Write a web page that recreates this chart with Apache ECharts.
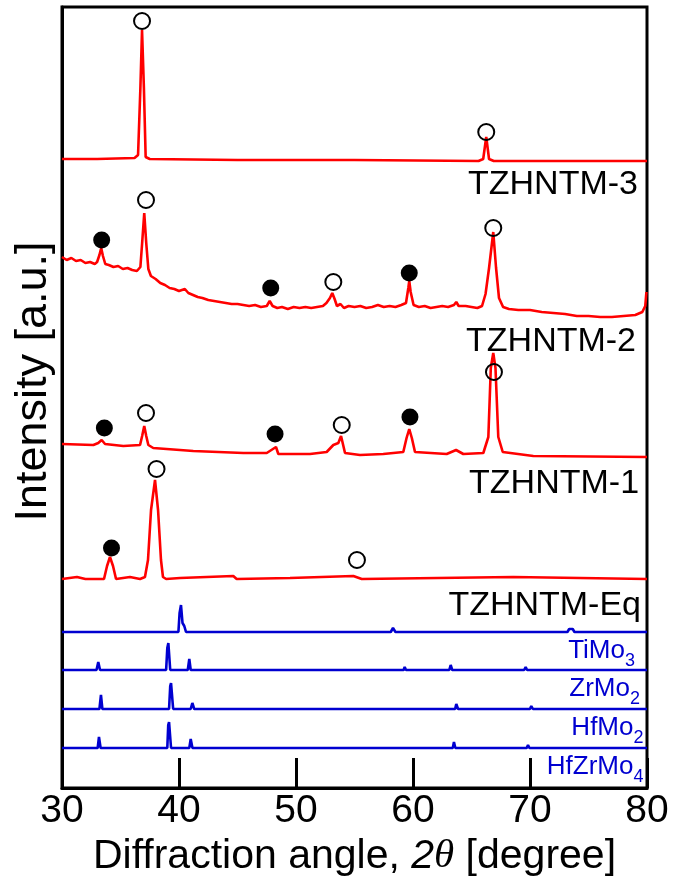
<!DOCTYPE html>
<html>
<head>
<meta charset="utf-8">
<script src="https://cdn.jsdelivr.net/npm/echarts@6/dist/echarts.min.js"></script>
<style>
  html, body { margin: 0; padding: 0; background: #fff; }
  #main { width: 686px; height: 877px; }
</style>
</head>
<body>
<div id="main"></div>
<script>
// 2θ [degree], intensity [a.u.] (patterns already stacked with offsets)
const tzhntm3 = [[30, 629], [33, 629], [36.2, 630], [36.5, 633], [36.7, 700], [36.84, 758], [37.0, 700], [37.15, 631], [37.5, 629], [45, 628], [55, 628], [65.6, 627], [66.0, 629], [66.26, 651], [66.5, 629], [66.9, 627], [75, 627], [80, 627]]

const tzhntm2 = [[30.0, 531], [30.4, 528], [30.8, 530], [31.2, 527], [31.6, 528], [32.0, 525], [32.4, 526], [32.8, 524], [33.0, 526], [33.2, 533], [33.35, 540], [33.5, 532], [33.7, 524], [34.0, 523], [34.4, 521], [34.8, 522], [35.2, 519], [35.6, 520], [36.0, 518], [36.4, 517], [36.7, 521], [36.85, 545], [37.03, 575], [37.2, 545], [37.38, 519], [37.6, 512], [38.0, 509], [38.4, 505], [38.8, 503], [39.2, 500], [39.6, 499], [40.0, 497], [40.5, 499], [40.8, 495], [41.2, 493], [41.6, 491], [42.0, 490], [42.5, 488], [43.0, 487], [43.5, 486], [44.0, 485], [44.5, 484], [45.0, 484], [45.5, 483], [46.0, 482], [46.5, 483], [47.0, 481], [47.5, 482], [47.75, 487], [48.0, 482], [48.4, 480], [48.8, 481], [49.3, 479], [49.8, 481], [50.3, 480], [50.8, 481], [51.3, 480], [51.8, 481], [52.3, 482], [52.6, 485], [52.9, 490], [53.1, 495], [53.3, 489], [53.5, 482], [53.8, 484], [54.1, 480], [54.5, 482], [55.0, 481], [55.5, 482], [56.0, 480], [56.5, 481], [57.0, 483], [57.5, 481], [58.0, 482], [58.5, 481], [59.0, 483], [59.4, 485], [59.6, 500], [59.68, 507], [59.8, 496], [60.05, 483], [60.5, 481], [61.0, 482], [61.5, 480], [62.0, 481], [62.5, 482], [63.0, 481], [63.5, 483], [63.7, 486], [63.9, 482], [64.5, 482], [65.0, 481], [65.5, 480], [65.9, 482], [66.2, 494], [66.5, 520], [66.86, 556], [67.1, 520], [67.35, 490], [67.7, 481], [68.2, 479], [69.0, 478], [70.0, 478], [71.0, 476], [72.0, 475], [73.0, 474], [74.0, 472], [75.0, 472], [76.0, 471], [77.0, 471], [78.0, 472], [79.0, 473], [79.6, 476], [79.85, 482], [79.95, 496]]

const tzhntm1 = [[30, 344], [32.68, 343], [33.1, 345], [33.39, 348], [33.68, 344], [35.24, 342], [36.67, 343], [36.85, 352], [37.03, 362], [37.2, 352], [37.38, 343], [37.8, 340], [41.22, 337], [45.5, 335], [47.5, 335], [48.29, 341], [48.49, 334], [51.2, 334], [52.62, 336], [53.19, 343], [53.62, 345], [53.85, 352], [54.19, 335], [55.47, 333], [57.46, 334], [59.17, 336], [59.45, 350], [59.68, 359], [59.9, 350], [60.17, 336], [62.88, 334], [63.68, 338], [64.3, 334], [66.01, 335], [66.44, 351], [66.65, 420], [66.86, 435], [67.05, 420], [67.29, 351], [67.67, 336], [70.28, 332], [80, 331]]

const tzhntmEq = [[30, 209], [31.28, 211], [32.0, 209], [33.59, 209], [33.85, 222], [34.1, 231], [34.36, 222], [34.62, 209], [35.81, 211], [36.67, 209], [37.09, 211], [37.35, 228], [37.61, 278], [37.95, 308], [38.21, 278], [38.46, 228], [38.63, 211], [38.9, 209], [40.09, 210], [44.64, 212], [44.93, 209], [49.49, 210], [54.9, 212], [55.04, 213], [55.62, 209], [68.57, 211], [80, 209]]

const tiMo3 = [[30, 156], [34.6, 156], [34.68, 158], [34.8, 156], [39.95, 156], [40.05, 175], [40.17, 183], [40.3, 165], [40.45, 162], [40.6, 156], [41.3, 156], [41.37, 158], [41.45, 156], [58.1, 156], [58.29, 160], [58.5, 156], [73.2, 156], [73.35, 159], [73.5, 158], [73.65, 159], [73.8, 156], [80, 156]]

const zrMo2 = [[30, 118], [32.95, 118], [33.1, 126], [33.25, 118], [38.9, 118], [39.0, 140], [39.09, 145], [39.25, 118], [40.75, 118], [40.88, 129], [41.0, 118], [47.6, 118], [47.7, 120], [47.8, 118], [59.2, 118], [59.29, 121], [59.4, 118], [63.1, 118], [63.22, 123], [63.35, 118], [69.5, 118], [69.63, 121], [69.75, 118], [80, 118]]

const hfMo2 = [[30, 79], [33.2, 79], [33.33, 93], [33.45, 79], [39.15, 79], [39.25, 102], [39.32, 105], [39.5, 79], [41.0, 79], [41.14, 85], [41.3, 79], [59.6, 79], [59.71, 81], [59.8, 79], [63.6, 79], [63.7, 84], [63.85, 79], [70.0, 79], [70.11, 82], [70.25, 79], [80, 79]]

const hfZrMo4 = [[30, 40], [33.05, 40], [33.16, 51], [33.3, 40], [39.0, 40], [39.08, 63], [39.15, 66], [39.32, 40], [40.88, 40], [41.0, 49], [41.15, 40], [59.35, 40], [59.43, 42], [59.55, 40], [63.4, 40], [63.5, 46], [63.62, 40], [69.72, 40], [69.83, 43], [69.95, 40], [80, 40]]

// peak markers: ○ and ●
const openMarks = [[36.84, 767], [66.26, 656], [37.18, 588], [53.19, 506], [66.86, 560], [37.18, 375], [53.91, 363], [66.92, 416], [38.08, 319], [55.21, 228]]
const filledMarks = [[33.39, 548], [47.84, 500], [59.68, 515], [33.62, 360], [48.21, 354], [59.74, 371], [34.23, 240]]

// sample names (right edge, centre)
const sampleLabels = [[79.23, 603, 'TZHNTM-3'], [79.06, 446, 'TZHNTM-2'], [79.32, 304, 'TZHNTM-1'], [79.49, 182, 'TZHNTM-Eq']]
const refLabels = [[78.97, 137, '{n|TiMo}{s|3}'], [79.4, 99, '{n|ZrMo}{s|2}'], [79.7, 60, '{n|HfMo}{s|2}'], [79.7, 21, '{n|HfZrMo}{s|4}']]

const xTicks = [30, 40, 50, 60, 70, 80]

const RED = '#ff0000'
const BLUE = '#0000d0'
const FONT = 'Liberation Sans, Arial, sans-serif'

const chart = echarts.init(document.getElementById('main'))

function pattern(data, color) {
    return {
        type: 'line',
        data: data,
        showSymbol: false,
        symbol: 'none',
        z: 2,
        lineStyle: { color: color, width: 2.6 },
    }
}

chart.setOption({
    animation: false,
    textStyle: { fontFamily: FONT },
    grid: {
        left: 62, right: 39, top: 7, bottom: 89,
        outerBoundsMode: 'none',
        show: true, borderColor: '#000', borderWidth: 3,
    },
    xAxis: {
        type: 'value',
        min: xTicks[0],
        max: xTicks[xTicks.length - 1],
        interval: 10,
        axisLine: { lineStyle: { color: '#000', width: 3 } },
        axisTick: { inside: true, length: 30, lineStyle: { color: '#000', width: 3 } },
        axisLabel: { fontSize: 39, color: '#000', margin: 4, fontFamily: FONT },
        splitLine: { show: false },
        name: '{a|Diffraction angle, }{i|2}{t|θ}{a| [degree]}',
        nameLocation: 'middle',
        nameGap: 40,
        nameTextStyle: {
            rich: {
                a: { fontSize: 41, color: '#000', fontFamily: FONT },
                i: { fontSize: 41, color: '#000', fontFamily: FONT, fontStyle: 'italic' },
                t: { fontSize: 41, color: '#000', fontFamily: 'Liberation Serif, serif', fontStyle: 'italic' },
            },
        },
    },
    yAxis: {
        type: 'value',
        min: 0,
        max: 781,
        axisLine: { show: true, lineStyle: { color: '#000', width: 3 } },
        axisTick: { show: false },
        axisLabel: { show: false },
        splitLine: { show: false },
        name: 'Intensity [a.u.]',
        nameLocation: 'middle',
        nameGap: 6,
        nameTextStyle: { fontSize: 45, color: '#000', fontFamily: FONT, padding: [0, 0, 0, 32] },
    },
    series: [
        pattern(tzhntm3, RED),
        pattern(tzhntm2, RED),
        pattern(tzhntm1, RED),
        pattern(tzhntmEq, RED),
        pattern(tiMo3, BLUE),
        pattern(zrMo2, BLUE),
        pattern(hfMo2, BLUE),
        pattern(hfZrMo4, BLUE),
        {
            type: 'scatter',
            data: openMarks,
            symbol: 'circle',
            symbolSize: 16,
            z: 5,
            itemStyle: { color: 'rgba(255,255,255,0)', borderColor: '#000', borderWidth: 2, opacity: 1 },
        },
        {
            type: 'scatter',
            data: filledMarks,
            symbol: 'circle',
            symbolSize: 17,
            z: 5,
            itemStyle: { color: '#000', opacity: 1 },
        },
        {
            type: 'scatter',
            data: sampleLabels,
            symbolSize: 0,
            z: 6,
            itemStyle: { opacity: 1 },
            label: {
                show: true,
                position: 'inside',
                align: 'right',
                verticalAlign: 'middle',
                formatter: p => p.data[2],
                fontSize: 34,
                color: '#000',
                fontFamily: FONT,
            },
        },
        {
            type: 'scatter',
            data: refLabels,
            symbolSize: 0,
            z: 6,
            itemStyle: { opacity: 1 },
            label: {
                show: true,
                position: 'inside',
                align: 'right',
                verticalAlign: 'middle',
                formatter: p => p.data[2],
                rich: {
                    n: { fontSize: 26, color: BLUE, fontFamily: FONT },
                    s: { fontSize: 18, color: BLUE, fontFamily: FONT, padding: [20, 0, 0, 0] },
                },
            },
        },
    ],
})
</script>
</body>
</html>
